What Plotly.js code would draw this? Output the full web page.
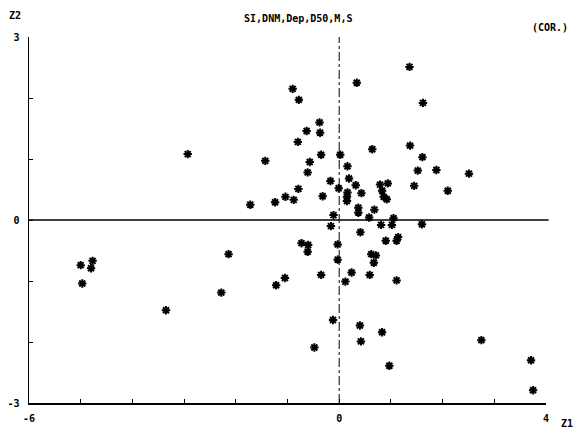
<!DOCTYPE html>
<html>
<head>
<meta charset="utf-8">
<script src="https://cdn.plot.ly/plotly-3.0.1.min.js"></script>
<style>html,body{margin:0;padding:0;background:#fff;}#chart{width:578px;height:433px;}</style>
</head>
<body>
<div id="chart"></div>
<script>
var z1 = [-2.93,-5.00,-4.77,-4.80,-4.97,-3.35,-0.90,-0.78,-0.38,-0.37,-0.63,-0.80,-0.35,0.02,-1.43,-0.57,-0.61,-0.17,-0.79,-0.01,-0.32,-1.04,-0.88,-1.24,-1.72,-0.11,-0.16,-0.73,-0.60,-0.61,-0.03,-0.03,-2.14,-1.05,-1.22,-2.28,-0.35,-0.12,-0.48,1.36,0.34,1.62,0.64,1.37,1.61,1.52,1.88,2.10,1.45,0.16,0.19,0.32,0.43,0.16,0.15,0.15,0.37,0.37,0.68,0.79,0.94,0.83,0.86,0.92,0.58,1.05,0.81,1.02,1.60,0.41,0.90,1.14,1.11,0.62,0.71,0.67,0.24,0.59,0.12,1.11,0.40,0.83,0.42,0.97,2.51,2.75,3.71,3.75];
var z2 = [1.08,-0.74,-0.67,-0.79,-1.04,-1.48,2.15,1.97,1.60,1.43,1.46,1.28,1.07,1.07,0.97,0.95,0.78,0.64,0.51,0.52,0.39,0.38,0.33,0.29,0.25,0.08,-0.10,-0.38,-0.41,-0.52,-0.40,-0.65,-0.56,-0.95,-1.07,-1.19,-0.90,-1.64,-2.09,2.51,2.25,1.92,1.16,1.22,1.03,0.81,0.82,0.48,0.56,0.88,0.68,0.57,0.44,0.45,0.38,0.31,0.20,0.12,0.17,0.58,0.60,0.48,0.38,0.34,0.04,0.03,-0.08,-0.08,-0.07,-0.20,-0.34,-0.28,-0.34,-0.56,-0.58,-0.70,-0.86,-0.90,-1.01,-0.99,-1.73,-1.84,-1.99,-2.39,0.76,-1.97,-2.30,-2.79];
var xTickVals = [-6,-5,-4,-3,-2,-1,0,1,2,3,4];
var xTickText = ['-6','','','','','','0','','','','4'];
var yTickVals = [-3,-2,-1,0,1,2,3];
var yTickText = ['-3','','','0','','','3'];
var titleText = 'SI,DNM,Dep,D50,M,S';

var fnt = {family: 'DejaVu Sans Mono', size: 10, color: '#000'};

var trace = {
  x: z1, y: z2, type: 'scatter', mode: 'markers',
  marker: {symbol: 'asterisk-open', size: 7, color: '#000', line: {color: '#000', width: 2}},
  hoverinfo: 'none'
};

var layout = {
  width: 578, height: 433,
  margin: {l: 29, r: 32, t: 37, b: 30},
  paper_bgcolor: '#fff', plot_bgcolor: '#fff',
  showlegend: false,
  title: {text: '<b>' + titleText + '</b>', font: {family: 'DejaVu Sans Mono', size: 10, color: '#000'}, x: 0.516, xanchor: 'center', y: 0.958, yanchor: 'middle'},
  xaxis: {
    range: [-6, 4], showgrid: false, zeroline: false,
    showline: true, linecolor: '#000', linewidth: 1.5,
    tickmode: 'array', tickvals: xTickVals, ticktext: xTickText.map(function(t){return t ? '<b>'+t+'</b>' : '';}),
    ticks: 'inside', ticklen: 4, tickwidth: 1, tickcolor: '#000',
    tickfont: fnt, ticklabelstandoff: 5, fixedrange: true
  },
  yaxis: {
    range: [-3, 3], showgrid: false, zeroline: false,
    showline: true, linecolor: '#000', linewidth: 1.5,
    tickmode: 'array', tickvals: yTickVals, ticktext: yTickText.map(function(t){return t ? '<b>'+t+'</b>' : '';}),
    ticks: 'inside', ticklen: 4, tickwidth: 1, tickcolor: '#000',
    tickfont: fnt, ticklabelstandoff: 6, fixedrange: true
  },
  shapes: [
    {type: 'line', xref: 'paper', yref: 'y', x0: 0, x1: 1.005, y0: 0, y1: 0, line: {color: '#000', width: 1.5}},
    {type: 'line', xref: 'x', yref: 'paper', x0: 0, x1: 0, y0: 0, y1: 1, line: {color: '#000', width: 1, dash: 'dashdot'}}
  ],
  annotations: [
    {text: '<b>Z2</b>', xref: 'paper', yref: 'paper', x: -0.027, y: 1.06, showarrow: false, font: fnt, xanchor: 'center', yanchor: 'middle'},
    {text: '<b>Z1</b>', xref: 'paper', yref: 'paper', x: 1.04, y: -0.055, showarrow: false, font: fnt, xanchor: 'center', yanchor: 'middle'},
    {text: '<b>(COR.)</b>', xref: 'paper', yref: 'paper', x: 1.008, y: 1.025, showarrow: false, font: fnt, xanchor: 'center', yanchor: 'middle'}
  ]
};

Plotly.newPlot('chart', [trace], layout, {displayModeBar: false, staticPlot: true});
</script>
</body>
</html>
